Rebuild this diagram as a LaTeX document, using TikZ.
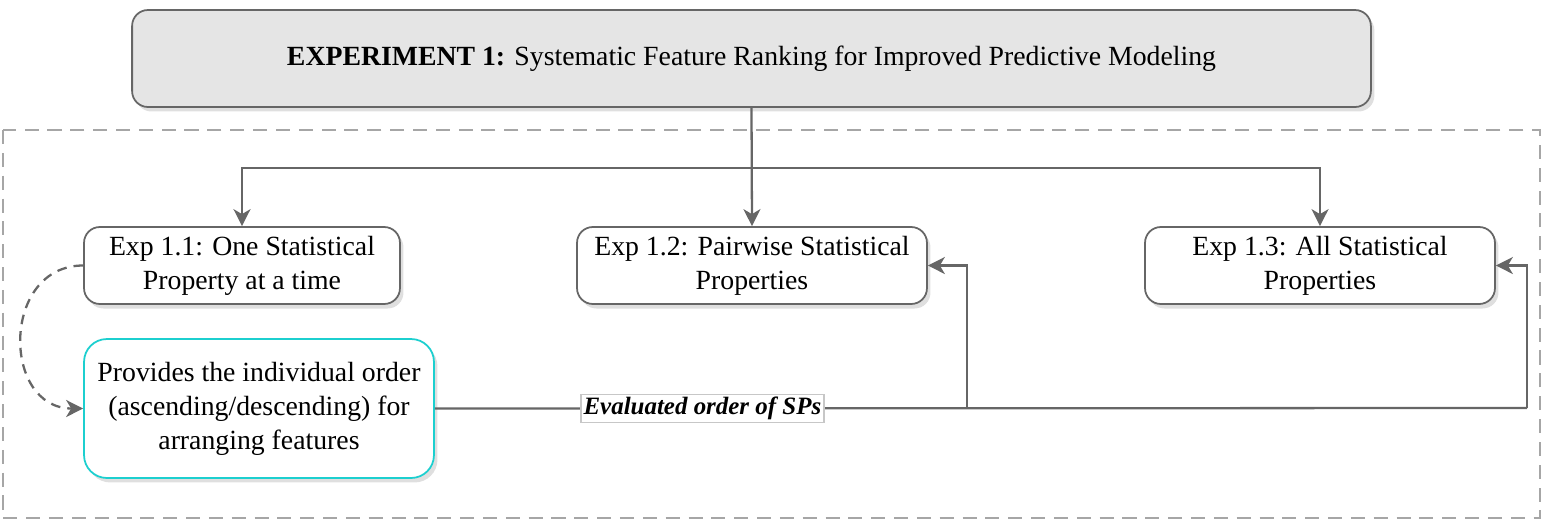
\documentclass[tikz,border=0pt]{standalone}
\usepackage{fontspec}
\setmainfont{Liberation Serif}
\usetikzlibrary{arrows.meta, positioning, shadows}

\definecolor{linegray}{HTML}{666666}
\definecolor{boxcyan}{HTML}{1CCFCF}
\definecolor{framegray}{HTML}{A6A6A6}

\begin{document}
\begin{tikzpicture}[
	x=0.02cm, y=-0.02cm,
	box/.style={rectangle, rounded corners=9pt, draw=linegray, line width=1pt, fill=white, align=center, inner sep=2pt, font=\fontsize{15.8}{19.3}\selectfont, drop shadow={opacity=0.25, shadow xshift=0.07cm, shadow yshift=-0.09cm}},
	arrow/.style={-{Stealth[length=3.4mm, width=3.4mm, inset=1mm]}, draw=linegray, line width=1.3pt},
	link/.style={draw=linegray, line width=1.3pt}
]
	\useasboundingbox (0,0) rectangle (1546,522);

	% Outer frame
	\draw[framegray, line width=1.2pt, dash pattern=on 8pt off 5pt] (3,130) rectangle (1540,518);

	% Title
	\node[box, fill=black!10, minimum width=24.78cm, minimum height=1.94cm] (title) at (751.5,58.5) {\textbf{EXPERIMENT 1:} Systematic Feature Ranking for Improved Predictive Modeling};

	% Sub-experiments
	\node[box, minimum width=6.32cm, minimum height=1.54cm] (exp1) at (242,265.5) {Exp 1.1: One Statistical\\Property at a time};
	\node[box, minimum width=7cm, minimum height=1.54cm] (exp2) at (752,265.5) {Exp 1.2: Pairwise Statistical\\Properties};
	\node[box, minimum width=7cm, minimum height=1.54cm] (exp3) at (1320,265.5) {Exp 1.3: All Statistical\\Properties};

	% Order result
	\node[box, draw=boxcyan, rounded corners=13pt, minimum width=7cm, minimum height=2.78cm] (order) at (259,408.5) {Provides the individual order\\(ascending/descending) for\\arranging features};

	% Branch coordinates
	\coordinate (split) at (751.5,168);
	\coordinate (join) at (967,408);
	\coordinate (turn) at (1527,408);

	% Arrows
	\draw[arrow] (title.south) -- (exp2.north);
	\draw[arrow] (split) -| (exp1.north);
	\draw[arrow] (split) -| (exp3.north);
	\draw[link] (order.east) -- node[pos=0.245, fill=white, draw=black!22, line width=0.8pt, inner sep=1.5pt, font=\fontsize{14.2}{16}\selectfont\bfseries\itshape] (lbl) {Evaluated order of SPs} (turn);
	\draw[arrow] (turn) |- (exp3.east);
	\draw[arrow] (join) |- (exp2.east);
	\draw[arrow, dash pattern=on 5.5pt off 4pt] (exp1.west) .. controls +(-82,0) and +(-82,0) .. (order.west);
\end{tikzpicture}
\end{document}
